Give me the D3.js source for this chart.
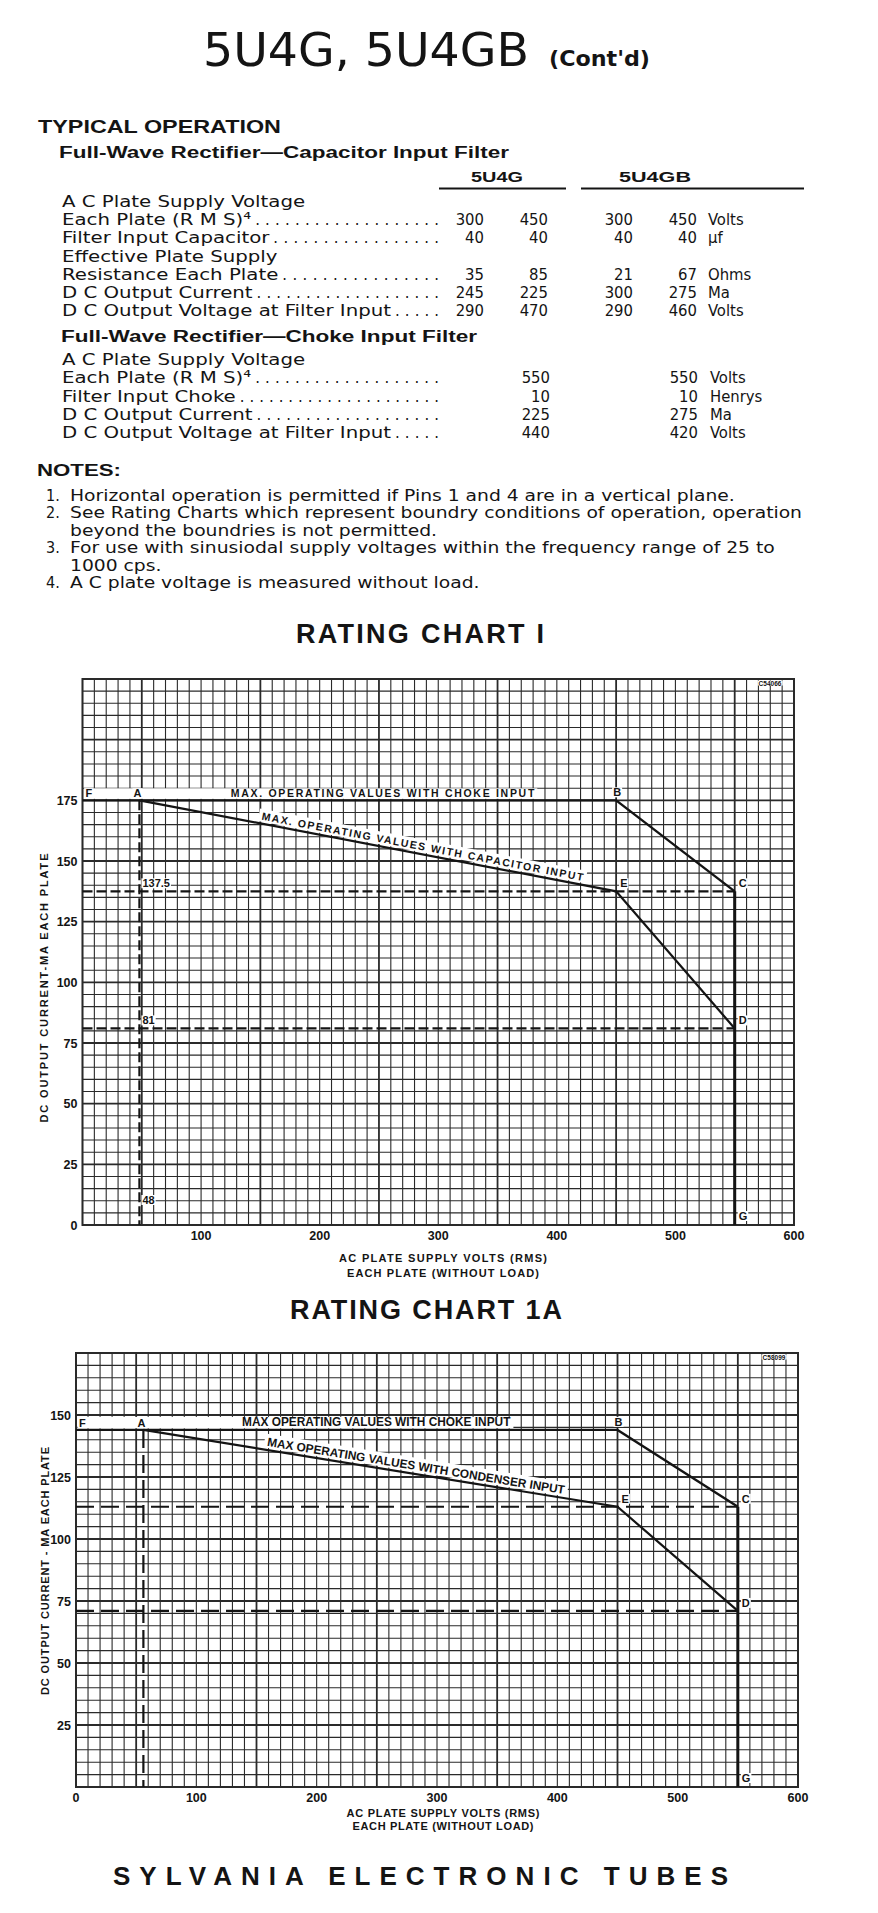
<!DOCTYPE html>
<html>
<head>
<meta charset="utf-8">
<script src="https://cdn.jsdelivr.net/npm/d3@7"></script>
<style>
  body { margin: 0; background: #fff; }
  svg { display: block; }
</style>
</head>
<body>
<div id="sheet"></div>
<script>
// ---------- table data ----------
const capLabels = ["A C Plate Supply Voltage", "Each Plate (R M S)\u2074", "Filter Input Capacitor",
                   "Effective Plate Supply", "Resistance Each Plate", "D C Output Current",
                   "D C Output Voltage at Filter Input"];
const capG1  = ["", "300", "40", "", "35", "245", "290"];
const capG2  = ["", "450", "40", "", "85", "225", "470"];
const capGB1 = ["", "300", "40", "", "21", "300", "290"];
const capGB2 = ["", "450", "40", "", "67", "275", "460"];
const capUnits = ["", "Volts", "\u00b5f", "", "Ohms", "Ma", "Volts"];

const chokeLabels = ["A C Plate Supply Voltage", "Each Plate (R M S)\u2074", "Filter Input Choke",
                     "D C Output Current", "D C Output Voltage at Filter Input"];
const chokeG  = ["", "550", "10", "225", "440"];
const chokeGB = ["", "550", "10", "275", "420"];
const chokeUnits = ["", "Volts", "Henrys", "Ma", "Volts"];

const noteNums  = ["1.", "2.", "", "3.", "", "4."];
const noteLines = ["Horizontal operation is permitted if Pins 1 and 4 are in a vertical plane.",
                   "See Rating Charts which represent boundry conditions of operation, operation",
                   "beyond the boundries is not permitted.",
                   "For use with sinusiodal supply voltages within the frequency range of 25 to",
                   "1000 cps.",
                   "A C plate voltage is measured without load."];

// ---------- chart data ----------
const pointNames = ["F", "A", "B", "C", "E", "D", "G"];
const ch1Volts = [0, 48, 450, 550, 450, 550, 550];
const ch1Ma    = [175, 175, 175, 137.5, 137.5, 81, 0];
const ch1aVolts = [0, 56, 450, 550, 450, 550, 550];
const ch1aMa    = [144, 144, 144, 113, 113, 71, 0];
const xTicks = [0, 100, 200, 300, 400, 500, 600];
const ch1YTicks = [0, 25, 50, 75, 100, 125, 150, 175];
const ch1aYTicks = [25, 50, 75, 100, 125, 150];

const W = 878, H = 1913;
const NARROW = "'Liberation Sans Narrow','DejaVu Sans Condensed','Liberation Sans',sans-serif";
const SANS = "'Liberation Sans','DejaVu Sans',sans-serif";
const INK = "#141414";

const svg = d3.select("#sheet").append("svg")
    .attr("width", W).attr("height", H)
    .style("background", "#fff");

function txt(parent, str, x, y, size, opts) {
    opts = opts || {};
    const t = parent.append("text")
        .attr("x", x).attr("y", y)
        .attr("font-family", opts.family || NARROW)
        .attr("font-size", size)
        .attr("font-weight", opts.weight || "normal")
        .attr("fill", INK)
        .attr("text-anchor", opts.anchor || "start")
        .text(str);
    if (opts.len) t.attr("textLength", opts.len).attr("lengthAdjust", opts.adj || "spacingAndGlyphs");
    return t;
}

// ---------- header ----------
const head = svg.append("g");
txt(head, "5U4G, 5U4GB", 203, 66, 47, { len: 326 });
txt(head, "(Cont'd)", 549, 66, 22, { weight: "bold", len: 101 });
txt(head, "TYPICAL OPERATION", 38, 133, 17.5, { family: SANS, weight: "bold", len: 243 });
txt(head, "Full-Wave Rectifier\u2014Capacitor Input Filter", 59, 158, 16, { family: SANS, weight: "bold", len: 450 });
txt(head, "5U4G", 497, 182, 15, { family: SANS, weight: "bold", anchor: "middle", len: 52 });
txt(head, "5U4GB", 655, 182, 15, { family: SANS, weight: "bold", anchor: "middle", len: 72 });
head.append("line").attr("x1", 439).attr("x2", 566).attr("y1", 188.5).attr("y2", 188.5)
    .attr("stroke", INK).attr("stroke-width", 2);
head.append("line").attr("x1", 581).attr("x2", 804).attr("y1", 188.5).attr("y2", 188.5)
    .attr("stroke", INK).attr("stroke-width", 2);

// label scale factor measured from the longest label
const probe = txt(head, "D C Output Voltage at Filter Input", 0, -50, 16.5);
const labelK = 329 / probe.node().getComputedTextLength();
probe.remove();

function tableRows(labels, cols, units, top, step, colX, unitX) {
    labels.forEach((lab, i) => {
        const yy = top + i * step;
        const t = txt(head, lab, 62, yy, 16.5);
        const w = t.node().getComputedTextLength() * labelK;
        t.attr("textLength", w).attr("lengthAdjust", "spacingAndGlyphs");
        const hasVal = cols.some(c => c[i] !== "");
        if (hasVal) {
            const start = 62 + w + 4, end = 439;
            const n = Math.max(1, Math.round((end - start) / 9.6));
            txt(head, ".".repeat(n), start, yy, 16.5, { len: end - start, adj: "spacing" });
        }
        cols.forEach((c, j) => {
            if (c[i] !== "") txt(head, c[i], colX[j], yy, 16.5, { anchor: "end" });
        });
        if (units[i] !== "") txt(head, units[i], unitX, yy, 16.5);
    });
}
tableRows(capLabels, [capG1, capG2, capGB1, capGB2], capUnits, 207, 18.2, [484, 548, 633, 697], 708);
txt(head, "Full-Wave Rectifier\u2014Choke Input Filter", 61, 342, 16, { family: SANS, weight: "bold", len: 416 });
tableRows(chokeLabels, [chokeG, chokeGB], chokeUnits, 365, 18.25, [550, 698], 710);

// ---------- notes ----------
txt(head, "NOTES:", 37, 476, 17, { family: SANS, weight: "bold", len: 84 });
const probe2 = txt(head, noteLines[1], 0, -50, 16);
const noteK = 732 / probe2.node().getComputedTextLength();
probe2.remove();
noteLines.forEach((line, i) => {
    const yy = 501 + i * 17.4;
    if (noteNums[i]) txt(head, noteNums[i], 46, yy, 16);
    const t = txt(head, line, 70, yy, 16);
    t.attr("textLength", t.node().getComputedTextLength() * noteK).attr("lengthAdjust", "spacingAndGlyphs");
});

// ---------- rating charts ----------
function drawChart(c) {
    const g = svg.append("g");
    const x = d3.scaleLinear().domain([0, 600]).range([c.left, c.right]);
    const y = d3.scaleLinear().domain([0, c.yTop]).range([c.bottom, c.top]);
    const pt = n => { const i = pointNames.indexOf(n); return [x(c.volts[i]), y(c.ma[i])]; };

    txt(g, c.title, c.titleX, c.titleY, 27, { family: SANS, weight: "bold", len: c.titleLen, adj: "spacing" });

    // graph paper
    const grid = g.append("g").attr("stroke", "#2a2a2a");
    grid.selectAll("line.v").data(d3.range(0, 601, 10)).join("line")
        .attr("x1", d => x(d)).attr("x2", d => x(d))
        .attr("y1", y(0)).attr("y2", y(c.yTop))
        .attr("stroke-width", d => d % 100 === 50 ? 1.8 : 1.1);
    grid.selectAll("line.h").data(d3.range(0, c.yTop + 1, 5)).join("line")
        .attr("x1", x(0)).attr("x2", x(600))
        .attr("y1", d => y(d)).attr("y2", d => y(d))
        .attr("stroke-width", d => d % 25 === 0 ? 1.8 : 1.1);
    grid.append("rect")
        .attr("x", x(0)).attr("y", y(c.yTop))
        .attr("width", x(600) - x(0)).attr("height", y(0) - y(c.yTop))
        .attr("fill", "none").attr("stroke-width", 2);

    // white masks under annotations
    const mask = g.append("g").attr("fill", "#fff");
    const [fx, fy] = pt("F");
    mask.append("rect").attr("x", fx + 1.5).attr("y", fy - c.band)
        .attr("width", x(c.chokeTo) + 3 - fx - 1.5).attr("height", c.band - 1.5);

    const [ax, ay] = pt("A"), [ex, ey] = pt("E");
    const ang = Math.atan2(ey - ay, ex - ax);
    const sx = x(c.capFrom), sy = ay + (sx - ax) * Math.tan(ang);
    const capLen = (x(c.capTo) - sx) / Math.cos(ang);
    const rot = `translate(${sx},${sy}) rotate(${ang * 180 / Math.PI})`;
    mask.append("rect").attr("transform", rot)
        .attr("x", -3).attr("y", -c.capOff - c.capSize)
        .attr("width", capLen + 6).attr("height", c.capSize + c.capOff - 2);

    // boundary lines
    const line = d3.line();
    const lines = g.append("g").attr("fill", "none").attr("stroke", INK);
    lines.append("path").attr("d", line(["F", "A", "B", "C"].map(pt))).attr("stroke-width", 2.4);
    lines.append("path").attr("d", line(["A", "E", "D"].map(pt))).attr("stroke-width", 2.2);
    lines.append("path").attr("d", line(["C", "G"].map(pt))).attr("stroke-width", 3);
    const dash = lines.append("g").attr("stroke-width", 2.2).attr("stroke-dasharray", c.dash);
    dash.append("path").attr("d", line([[x(0), pt("E")[1]], pt("C")]));
    dash.append("path").attr("d", line([[x(0), pt("D")[1]], pt("D")]));
    dash.append("path").attr("d", line([pt("A"), [pt("A")[0], y(0)]]));

    // annotations
    const ann = g.append("g");
    txt(ann, c.chokeText, x(c.chokeFrom), fy - 3.5, c.chokeSize,
        { family: SANS, weight: "bold", len: x(c.chokeTo) - x(c.chokeFrom), adj: c.chokeAdj });
    txt(ann.append("g").attr("transform", rot), c.capText, 0, -c.capOff, c.capSize,
        { family: SANS, weight: "bold", len: capLen, adj: c.chokeAdj });

    function boxed(str, px, py, size, anchor) {
        const t = txt(ann, str, px, py, size, { family: SANS, weight: "bold", anchor: anchor || "start" });
        const b = t.node().getBBox();
        ann.insert("rect", () => t.node())
            .attr("x", b.x - 1).attr("y", b.y + 1).attr("width", b.width + 2).attr("height", b.height - 2)
            .attr("fill", "#fff");
        return t;
    }
    const off = { F: [3, -3, "start"], A: [-2, -3, "middle"], B: [1, -4, "middle"],
                  C: [4, -4, "start"], E: [4, -4, "start"], D: [4, -4, "start"], G: [4, -5, "start"] };
    pointNames.forEach(n => {
        const [px, py] = pt(n);
        boxed(n, px + off[n][0], py + off[n][1], 11, off[n][2]);
    });
    if (c.showValues) {
        boxed(String(c.ma[pointNames.indexOf("E")]), ax + 3, ey - 4, 11);
        boxed(String(c.ma[pointNames.indexOf("D")]), ax + 3, pt("D")[1] - 4, 11);
        boxed(String(c.volts[pointNames.indexOf("A")]), ax + 3, y(0) - 21, 11);
    }
    boxed(c.code, x(600) - 24, y(c.yTop) + 6.5, 6.5, "middle");

    // axes labels
    const ax2 = g.append("g");
    c.yTicks.forEach(v => txt(ax2, String(v), c.left - 5, y(v) + 4.5, 12.5,
        { family: SANS, weight: "bold", anchor: "end" }));
    c.xTicksShown.forEach(v => txt(ax2, String(v), x(v), c.bottom + c.xTickDy, 12.5,
        { family: SANS, weight: "bold", anchor: "middle" }));
    txt(ax2, c.xTitle1, 443, c.bottom + c.xt1, 11, { family: SANS, weight: "bold", anchor: "middle", len: c.xt1Len, adj: "spacing" });
    txt(ax2, c.xTitle2, 443, c.bottom + c.xt2, 11, { family: SANS, weight: "bold", anchor: "middle", len: c.xt2Len, adj: "spacing" });
    txt(ax2.append("g").attr("transform", `translate(${c.yTitleX},${c.yTitleY}) rotate(-90)`),
        c.yTitle, 0, 0, 11, { family: SANS, weight: "bold", anchor: "middle", len: c.yTitleLen, adj: "spacing" });
}

drawChart({
    title: "RATING CHART I", titleX: 296, titleY: 643, titleLen: 248,
    left: 82.5, right: 794, bottom: 1225, top: 679, yTop: 225,
    volts: ch1Volts, ma: ch1Ma, yTicks: ch1YTicks, xTicksShown: xTicks.slice(1),
    band: 12, dash: "10,4",
    chokeText: "MAX.  OPERATING  VALUES  WITH  CHOKE  INPUT", chokeFrom: 125, chokeTo: 381, chokeSize: 10.5, chokeAdj: "spacing",
    capText: "MAX.  OPERATING  VALUES  WITH  CAPACITOR  INPUT", capFrom: 150, capTo: 421, capSize: 10.5, capOff: 4,
    showValues: true, code: "C54066",
    xTickDy: 15, xt1: 37, xt2: 52, xt1Len: 208, xt2Len: 192,
    xTitle1: "AC PLATE SUPPLY VOLTS (RMS)", xTitle2: "EACH PLATE (WITHOUT LOAD)",
    yTitle: "DC  OUTPUT  CURRENT-MA  EACH  PLATE", yTitleX: 48, yTitleY: 988, yTitleLen: 269
});

drawChart({
    title: "RATING CHART 1A", titleX: 290, titleY: 1319, titleLen: 272,
    left: 76, right: 798, bottom: 1787, top: 1353, yTop: 175,
    volts: ch1aVolts, ma: ch1aMa, yTicks: ch1aYTicks, xTicksShown: xTicks,
    band: 13, dash: "18,7",
    chokeText: "MAX OPERATING VALUES WITH CHOKE INPUT", chokeFrom: 138, chokeTo: 361, chokeSize: 12, chokeAdj: "spacingAndGlyphs",
    capText: "MAX OPERATING VALUES WITH CONDENSER INPUT", capFrom: 158, capTo: 405, capSize: 12, capOff: 4,
    showValues: false, code: "C58099",
    xTickDy: 15, xt1: 30, xt2: 43, xt1Len: 193, xt2Len: 181,
    xTitle1: "AC PLATE SUPPLY VOLTS (RMS)", xTitle2: "EACH PLATE (WITHOUT LOAD)",
    yTitle: "DC OUTPUT CURRENT - MA EACH PLATE", yTitleX: 49, yTitleY: 1571, yTitleLen: 248
});

// ---------- footer ----------
txt(svg, "SYLVANIA  ELECTRONIC  TUBES", 113, 1885, 26, { family: SANS, weight: "bold", len: 615, adj: "spacing" });
</script>
</body>
</html>
